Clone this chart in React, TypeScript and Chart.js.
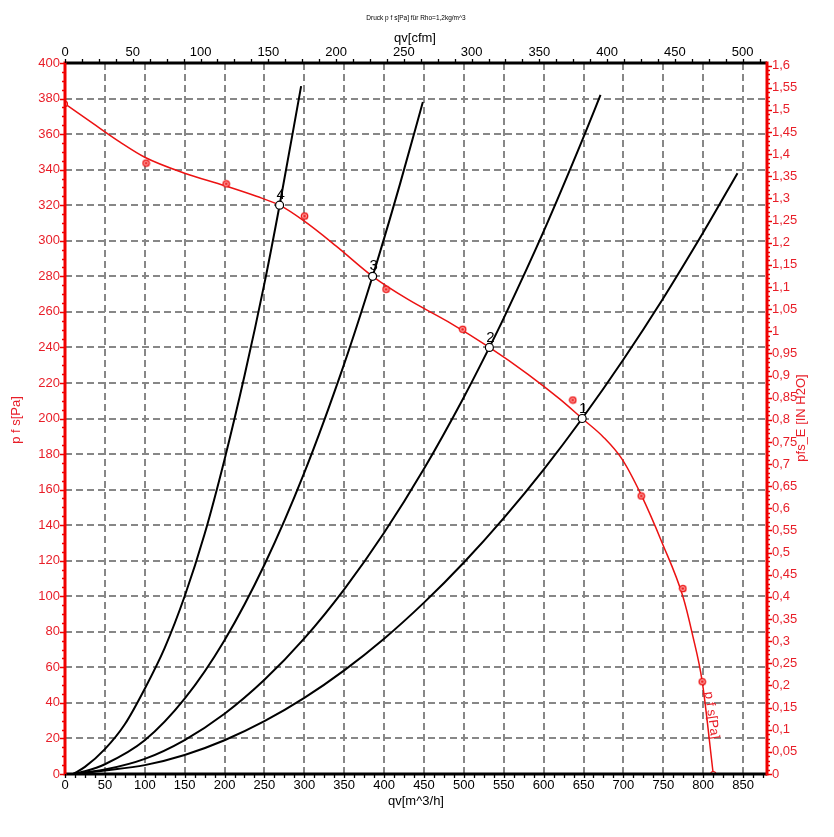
import React, { useEffect, useRef } from 'react';
import { Chart, registerables } from 'chart.js';

Chart.register(...registerables);

const FONT = "'Liberation Sans', Arial, Helvetica, sans-serif";
const RED_TEXT = 'rgb(232,30,40)';
const RED_LINE = 'rgb(236,18,18)';
const GRID = 'rgb(135,135,135)';

const M3H_PER_CFM = 1.69901;
const PA_PER_INH2O = 249.089;
const Q_MAX = 880;
const P_MAX = 400;

// ---- tick labels ----
const qTicks = [0, 50, 100, 150, 200, 250, 300, 350, 400, 450, 500, 550, 600, 650, 700, 750, 800, 850];
const cfmTicks = [0, 50, 100, 150, 200, 250, 300, 350, 400, 450, 500];
const paTicks = [0, 20, 40, 60, 80, 100, 120, 140, 160, 180, 200, 220, 240, 260, 280, 300, 320, 340, 360, 380, 400];
const inH2OTicks = [0, 0.05, 0.1, 0.15, 0.2, 0.25, 0.3, 0.35, 0.4, 0.45, 0.5, 0.55, 0.6, 0.65, 0.7, 0.75, 0.8, 0.85, 0.9, 0.95, 1, 1.05, 1.1, 1.15, 1.2, 1.25, 1.3, 1.35, 1.4, 1.45, 1.5, 1.55, 1.6];
const qGrid = [50, 100, 150, 200, 250, 300, 350, 400, 450, 500, 550, 600, 650, 700, 750, 800, 850];
const paGrid = [20, 40, 60, 80, 100, 120, 140, 160, 180, 200, 220, 240, 260, 280, 300, 320, 340, 360, 380];

// ---- fan curve p f s [Pa] over qv [m^3/h] ----
const fanQ = [0, 35, 69, 100, 150, 200, 240, 269, 300, 340, 385.6, 430, 480, 532, 580, 620, 648.3, 675, 698.5, 722.3, 748.6, 774.5, 786.3, 798.8, 812.6];
const fanP = [377, 366, 355.5, 347, 338, 331, 325, 320, 311, 297, 280, 267, 254.5, 240, 225, 211, 200, 189.5, 177, 157, 130, 100, 79, 52, 0];

// measured points on the fan curve
const measQ = [101.6, 202, 300.3, 402.4, 498.5, 636.5, 722.3, 774.5, 798.8];
const measP = [343.7, 332, 313.9, 272.7, 250.2, 210.4, 156.4, 104.3, 51.9];
const endQ = [0, 812.6];
const endP = [377, 0];

// operating points
const opQ = [648.3, 532, 385.6, 269];
const opP = [200, 240, 280, 320];
const opLabels = ['1', '2', '3', '4'];

// system curves
const sys1Q = [10, 50, 100, 150, 200, 250, 300, 350, 400, 450, 500, 550, 600, 648.3, 700, 750, 800, 843];
const sys1P = [0, 2, 5, 10.7, 19, 29.7, 42.8, 58.3, 76.1, 96.4, 119, 144, 171.3, 200, 233.2, 267.7, 304.6, 338];
const sys2Q = [10, 50, 100, 150, 200, 250, 300, 350, 400, 450, 500, 532, 550, 600, 650, 671.3];
const sys2P = [0, 2.5, 8.5, 19.1, 33.9, 53, 76.3, 103.9, 135.7, 171.7, 212, 240, 256.5, 305.3, 358.3, 382];
const sys3Q = [10, 25, 50, 100, 150, 200, 250, 300, 350, 385.6, 420, 448.6];
const sys3P = [0, 1.5, 5.5, 19, 42.4, 75.3, 117.7, 169.5, 230.7, 280, 332, 378];
const sys4Q = [10, 25, 50, 75, 100, 125, 150, 175, 200, 225, 250, 269, 296];
const sys4P = [0, 4, 14, 28, 48, 71, 100, 135, 177, 224, 276, 320, 387];

const pts = (qs: number[], ps: number[]) => qs.map((q, i) => ({ x: q, y: ps[i] }));

const fmtComma = (v: number) => {
  const s = (Math.round(v * 100) / 100).toString();
  return s.replace('.', ',');
};

export default function App() {
  const ref = useRef<HTMLCanvasElement>(null);

  useEffect(() => {
    const canvas = ref.current!;
    const marker = document.createElement('canvas');
    marker.width = 9;
    marker.height = 9;
    const mc = marker.getContext('2d')!;
    mc.fillStyle = 'rgb(255,170,170)';
    mc.beginPath();
    mc.arc(4.5, 4.5, 3.2, 0, Math.PI * 2);
    mc.fill();
    mc.strokeStyle = RED_LINE;
    mc.lineWidth = 1.3;
    mc.beginPath();
    mc.arc(4.5, 4.5, 3.2, 0, Math.PI * 2);
    mc.stroke();
    mc.fillStyle = RED_LINE;
    mc.beginPath();
    mc.arc(4.5, 4.5, 1.3, 0, Math.PI * 2);
    mc.fill();

    const overlay = {
      id: 'overlay',
      beforeDatasetsDraw(chart: any) {
        const ctx = chart.ctx;
        const xs = chart.scales.x;
        const ys = chart.scales.y;
        const { left, right, top, bottom } = chart.chartArea;
        ctx.save();
        ctx.strokeStyle = GRID;
        ctx.lineWidth = 2;
        ctx.setLineDash([7, 4]);
        qGrid.forEach((v) => {
          const px = Math.round(xs.getPixelForValue(v));
          ctx.beginPath();
          ctx.moveTo(px, top);
          ctx.lineTo(px, bottom);
          ctx.stroke();
        });
        paGrid.forEach((v) => {
          const py = Math.round(ys.getPixelForValue(v));
          ctx.beginPath();
          ctx.moveTo(left, py);
          ctx.lineTo(right, py);
          ctx.stroke();
        });
        ctx.restore();
      },
      afterDatasetsDraw(chart: any) {
        const ctx = chart.ctx;
        const xs = chart.scales.x;
        const ys = chart.scales.y;
        ctx.save();
        ctx.fillStyle = '#000';
        ctx.font = `15px ${FONT}`;
        ctx.textAlign = 'center';
        ctx.textBaseline = 'middle';
        opQ.forEach((q, i) => {
          ctx.fillText(opLabels[i], xs.getPixelForValue(q) + 1, ys.getPixelForValue(opP[i]) - 10);
        });
        const lx = xs.getPixelForValue(803) + 6;
        const ly = ys.getPixelForValue(33);
        ctx.translate(lx, ly);
        ctx.rotate((82 * Math.PI) / 180);
        ctx.fillStyle = RED_TEXT;
        ctx.font = `13px ${FONT}`;
        ctx.fillText('p f s[Pa]', 0, 0);
        ctx.restore();
      },
      afterDraw(chart: any) {
        const ctx = chart.ctx;
        const xs = chart.scales.x;
        const ys = chart.scales.y;
        const x2 = chart.scales.x2;
        const y2 = chart.scales.y2;
        const { left, right, top, bottom } = chart.chartArea;
        ctx.save();
        ctx.lineWidth = 3;
        ctx.strokeStyle = '#000';
        ctx.beginPath();
        ctx.moveTo(left, bottom);
        ctx.lineTo(right, bottom);
        ctx.moveTo(left, top);
        ctx.lineTo(right, top);
        ctx.stroke();
        ctx.strokeStyle = 'rgb(240,0,0)';
        ctx.beginPath();
        ctx.moveTo(left, top - 1.5);
        ctx.lineTo(left, bottom + 1.5);
        ctx.moveTo(right, top - 1.5);
        ctx.lineTo(right, bottom + 1.5);
        ctx.stroke();

        ctx.lineWidth = 1.3;
        ctx.strokeStyle = 'rgb(240,0,0)';
        ctx.beginPath();
        for (let v = 0; v <= P_MAX + 0.001; v += 5) {
          const py = Math.round(ys.getPixelForValue(v)) + 0.5;
          const len = v % 20 === 0 ? 5 : 3;
          ctx.moveTo(left - len, py);
          ctx.lineTo(left, py);
        }
        for (let i = 0; i <= 160; i++) {
          const v = i / 100;
          const py = Math.round(y2.getPixelForValue(v)) + 0.5;
          const len = i % 5 === 0 ? 5 : 3;
          ctx.moveTo(right, py);
          ctx.lineTo(right + len, py);
        }
        ctx.stroke();
        ctx.strokeStyle = '#000';
        ctx.beginPath();
        for (let v = 0; v <= 517; v += 12.5) {
          const px = Math.round(x2.getPixelForValue(v)) + 0.5;
          ctx.moveTo(px, top);
          ctx.lineTo(px, top - 4);
        }
        for (let v = 0; v <= Q_MAX; v += 12.5) {
          const px = Math.round(xs.getPixelForValue(v)) + 0.5;
          ctx.moveTo(px, bottom);
          ctx.lineTo(px, bottom + 4);
        }
        ctx.stroke();

        ctx.fillStyle = '#000';
        ctx.textAlign = 'center';
        ctx.textBaseline = 'middle';
        ctx.font = `6.5px ${FONT}`;
        ctx.fillText('Druck p f s[Pa] für Rho=1,2kg/m^3', 416, 18);
        ctx.font = `13px ${FONT}`;
        ctx.fillText('qv[cfm]', 415, 38);
        ctx.fillText('qv[m^3/h]', 416, 801);

        ctx.fillStyle = RED_TEXT;
        ctx.save();
        ctx.translate(16, 420);
        ctx.rotate(-Math.PI / 2);
        ctx.fillText('p f s[Pa]', 0, 0);
        ctx.restore();
        ctx.save();
        ctx.translate(801, 418);
        ctx.rotate(-Math.PI / 2);
        ctx.fillText('pfs_E [IN H2O]', 0, 0);
        ctx.restore();
        ctx.restore();
      },
    };

    const blackLine = (qs: number[], ps: number[]) => ({
      data: pts(qs, ps),
      borderColor: '#000',
      borderWidth: 2,
      pointRadius: 0,
      cubicInterpolationMode: 'monotone' as const,
      fill: false,
      order: 5,
    });

    const tickFont = { size: 13, family: FONT };

    const chart = new Chart(canvas, {
      type: 'line',
      data: {
        datasets: [
          {
            data: pts(opQ, opP),
            showLine: false,
            pointRadius: 4,
            pointBackgroundColor: '#fff',
            pointBorderColor: '#000',
            pointBorderWidth: 1.2,
            order: 1,
          } as any,
          {
            data: pts(measQ, measP),
            showLine: false,
            pointStyle: marker,
            pointRadius: 4,
            order: 2,
          },
          {
            data: pts(endQ, endP),
            showLine: false,
            pointRadius: 2.5,
            pointBackgroundColor: '#fff',
            pointBorderColor: RED_LINE,
            pointBorderWidth: 1.2,
            order: 2,
          },
          {
            data: pts(fanQ, fanP),
            borderColor: RED_LINE,
            borderWidth: 1.5,
            pointRadius: 0,
            cubicInterpolationMode: 'monotone',
            fill: false,
            order: 3,
          },
          blackLine(sys1Q, sys1P),
          blackLine(sys2Q, sys2P),
          blackLine(sys3Q, sys3P),
          blackLine(sys4Q, sys4P),
        ] as any,
      },
      options: {
        animation: false,
        responsive: false,
        devicePixelRatio: 1,
        layout: { padding: 0 },
        plugins: { legend: { display: false }, tooltip: { enabled: false }, title: { display: false } },
        events: [],
        scales: {
          x: {
            type: 'linear',
            position: 'bottom',
            min: 0,
            max: Q_MAX,
            afterBuildTicks: (s: any) => {
              s.ticks = qTicks.map((v) => ({ value: v }));
            },
            afterFit: (s: any) => {
              s.height = 63;
            },
            grid: { display: false, drawTicks: false },
            border: { display: false },
            ticks: { color: '#000', font: tickFont, padding: 4, maxRotation: 0, minRotation: 0, autoSkip: false, callback: (v: any) => String(v) },
          },
          x2: {
            type: 'linear',
            position: 'top',
            min: 0,
            max: Q_MAX / M3H_PER_CFM,
            afterBuildTicks: (s: any) => {
              s.ticks = cfmTicks.map((v) => ({ value: v }));
            },
            afterFit: (s: any) => {
              s.height = 63;
            },
            grid: { display: false, drawTicks: false },
            border: { display: false },
            ticks: { color: '#000', font: tickFont, padding: 3, maxRotation: 0, minRotation: 0, autoSkip: false, callback: (v: any) => String(v) },
          },
          y: {
            type: 'linear',
            position: 'left',
            min: 0,
            max: P_MAX,
            afterBuildTicks: (s: any) => {
              s.ticks = paTicks.map((v) => ({ value: v }));
            },
            afterFit: (s: any) => {
              s.width = 65;
            },
            grid: { display: false, drawTicks: false },
            border: { display: false },
            ticks: { color: RED_TEXT, font: tickFont, padding: 5, autoSkip: false, callback: (v: any) => String(v) },
          },
          y2: {
            type: 'linear',
            position: 'right',
            min: 0,
            max: P_MAX / PA_PER_INH2O,
            afterBuildTicks: (s: any) => {
              s.ticks = inH2OTicks.map((v) => ({ value: v }));
            },
            afterFit: (s: any) => {
              s.width = 67;
            },
            grid: { display: false, drawTicks: false },
            border: { display: false },
            ticks: { color: RED_TEXT, font: tickFont, padding: 5, autoSkip: false, callback: (v: any) => fmtComma(Number(v)) },
          },
        },
      } as any,
      plugins: [overlay],
    });

    return () => chart.destroy();
  }, []);

  return (
    <div style={{ position: 'fixed', left: 0, top: 0, width: 834, height: 837, background: '#fff' }}>
      <canvas ref={ref} width={834} height={837} style={{ display: 'block' }} />
    </div>
  );
}
